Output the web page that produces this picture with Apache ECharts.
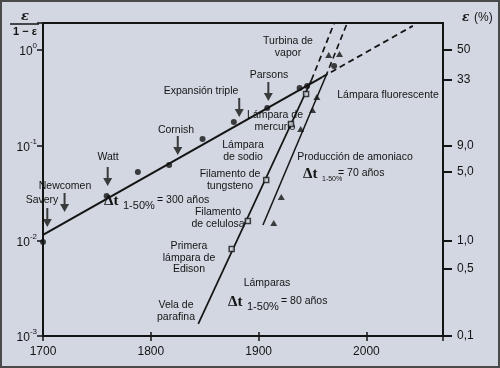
<!DOCTYPE html>
<html><head><meta charset="utf-8">
<script src="https://cdn.jsdelivr.net/npm/echarts@6/dist/echarts.min.js"></script>
<style>html,body{margin:0;padding:0;background:#d2d7e1}#c{width:500px;height:368px}</style>
</head><body><div id="c"></div>
<script>
// ---- data ----
const xTicks = [1700, 1800, 1900, 2000];
const yPowers = [0.001, 0.01, 0.1, 1];
const epsTicks = [0.1, 0.5, 1.0, 5.0, 9.0, 33, 50];
const epsLabels = ['0,1', '0,5', '1,0', '5,0', '9,0', '33', '50'];

// steam engines (dots)
const steamDotYears  = [1700, 1759, 1788, 1817, 1848, 1877, 1908, 1938, 1945, 1970];
const steamDotValues = [0.0097, 0.0294, 0.0525, 0.0622, 0.1165, 0.176, 0.246, 0.40, 0.419, 0.68];
// lamps (squares)
const lampYears  = [1875, 1890, 1907, 1930, 1944];
const lampValues = [0.0082, 0.0161, 0.0433, 0.1675, 0.345];
// ammonia production (triangles)
const ammoniaYears  = [1914, 1921, 1939, 1950, 1954, 1965, 1975];
const ammoniaValues = [0.0153, 0.0287, 0.148, 0.235, 0.321, 0.887, 0.908];
// event arrows: Savery, Newcomen, Watt, Cornish, Expansión triple, Parsons
const arrowYears  = [1704, 1720, 1760, 1825, 1882, 1909];
const arrowValues = [0.0139, 0.0200, 0.0374, 0.0792, 0.198, 0.292];

// fitted trend lines (solid part, dashed extrapolation)
const steamFitYears   = [1700, 1959];  const steamFitValues   = [0.0115, 0.52];
const steamDashYears  = [1959, 2043];  const steamDashValues  = [0.52, 1.79];
const lampFitYears    = [1844, 1949];  const lampFitValues    = [0.00134, 0.484];
const lampDashYears   = [1949, 1970];  const lampDashValues   = [0.484, 1.9];
const ammFitYears     = [1904, 1962];  const ammFitValues     = [0.0146, 0.521];
const ammDashYears    = [1962, 1982];  const ammDashValues    = [0.521, 1.9];

const X_MIN = 1700, X_MAX = 2071, Y_MIN = 0.001, Y_MAX = 1.92;

const zip = (a, b) => a.map((v, i) => [v, b[i]]);
const FONT = "'Liberation Sans', Arial, sans-serif";
const INK = '#141414';

function lineSeries(xs, ys, dashed, w) {
  return { type: 'line', data: zip(xs, ys), symbol: 'none', silent: true,
    lineStyle: { color: INK, width: w, type: dashed ? [6, 4] : 'solid' }, z: 3 };
}
function txt(x, y, text, extra) {
  return Object.assign({ type: 'text', x: x, y: y, silent: true,
    style: Object.assign({ text: text, fill: INK, font: '10.5px ' + FONT,
      align: 'center', verticalAlign: 'middle', textAlign: 'center', textVerticalAlign: 'middle',
      lineHeight: 11.5 }, extra || {}) });
}
function delta(x, y, sub, rest, subSize) {
  return [
    txt(x, y, 'Δt', { font: 'bold 15px "Liberation Serif", serif', align: 'left', textAlign: 'left' }),
    txt(x + 19, y + 5, sub, { font: (subSize || 11) + 'px ' + FONT, align: 'left', textAlign: 'left' }),
    txt(x + (subSize ? 35 : 53), y - 1, rest, { font: '10.5px ' + FONT, align: 'left', textAlign: 'left' })
  ];
}

const arrowPath = 'path://M3,0 L5,0 L5,11 L8.5,11 L4,19 L-0.5,11 L3,11 Z';

const chart = echarts.init(document.getElementById('c'), null, { renderer: 'canvas' });
chart.setOption({
  backgroundColor: '#d2d7e1',
  animation: false,
  grid: { left: 43, right: 57, top: 23, bottom: 32, show: true, borderColor: INK, borderWidth: 2 },
  xAxis: [{
    type: 'value', min: X_MIN, max: X_MAX, interval: 100,
    axisLine: { show: true, onZero: false, lineStyle: { color: INK, width: 2 } },
    axisTick: { show: true, length: 5, lineStyle: { color: INK, width: 1.5 } },
    axisLabel: { color: INK, fontSize: 12, fontFamily: FONT, margin: 10,
      formatter: v => (xTicks.indexOf(v) >= 0 ? String(v) : '') },
    splitLine: { show: false }
  }, {
    type: 'value', min: X_MIN, max: X_MAX, interval: 100, position: 'bottom',
    axisLine: { show: false, onZero: false },
    axisTick: { show: true, inside: true, length: 4, lineStyle: { color: INK, width: 1.5 } },
    axisLabel: { show: false }, splitLine: { show: false }
  }],
  yAxis: [{
    type: 'log', min: Y_MIN, max: Y_MAX, logBase: 10,
    axisLine: { show: true, onZero: false, lineStyle: { color: INK, width: 2 } },
    axisTick: { show: true, length: 6, lineStyle: { color: INK, width: 1.5 } },
    axisLabel: { color: INK, fontFamily: FONT, margin: 6,
      formatter: v => {
        const e = Math.round(Math.log10(v));
        if (Math.abs(Math.log10(v) - e) > 1e-6) return '';
        return '{b|10}{s|' + e + '}';
      },
      rich: { b: { fontSize: 12, fontFamily: FONT, color: INK, lineHeight: 16, verticalAlign: 'bottom' },
              s: { fontSize: 8, fontFamily: FONT, color: INK, lineHeight: 16, verticalAlign: 'top' } } },
    splitLine: { show: false }
  }, {
    type: 'value', position: 'right', min: Math.log10(Y_MIN), max: Math.log10(Y_MAX),
    axisLine: { show: true, onZero: false, lineStyle: { color: INK, width: 2 } },
    axisTick: { show: true, length: 9, lineStyle: { color: INK, width: 2 },
      customValues: epsTicks.map(e => Math.log10(e / (100 - e))) },
    axisLabel: { color: INK, fontSize: 12, fontFamily: FONT, margin: 14,
      customValues: epsTicks.map(e => Math.log10(e / (100 - e))),
      formatter: v => {
        let best = 0, d = 1e9;
        epsTicks.forEach((e, i) => { const dd = Math.abs(Math.log10(e / (100 - e)) - v); if (dd < d) { d = dd; best = i; } });
        return epsLabels[best];
      } },
    splitLine: { show: false }
  }],
  series: [
    lineSeries(steamFitYears, steamFitValues, false, 2),
    lineSeries(steamDashYears, steamDashValues, true, 1.8),
    lineSeries(lampFitYears, lampFitValues, false, 1.7),
    lineSeries(lampDashYears, lampDashValues, true, 1.7),
    lineSeries(ammFitYears, ammFitValues, false, 1.5),
    lineSeries(ammDashYears, ammDashValues, true, 1.6),
    { type: 'scatter', data: zip(steamDotYears, steamDotValues), symbol: 'circle', symbolSize: 6,
      itemStyle: { color: INK }, z: 4, clip: false },
    { type: 'scatter', data: zip(lampYears, lampValues), symbol: 'rect', symbolSize: 5,
      itemStyle: { color: '#d2d7e1', borderColor: INK, borderWidth: 1.5 }, z: 4 },
    { type: 'scatter', data: zip(ammoniaYears, ammoniaValues), symbol: 'triangle', symbolSize: [7, 6],
      itemStyle: { color: INK }, z: 4 },
    { type: 'scatter', data: zip(arrowYears, arrowValues), symbol: arrowPath, symbolSize: [9, 19],
      symbolOffset: [0, '-50%'], itemStyle: { color: INK }, z: 5, clip: false }
  ],
  graphic: [
    { type: 'rect', shape: { x: 1, y: 1, width: 498, height: 366 }, silent: true,
      style: { fill: 'none', stroke: '#4a4a4a', lineWidth: 2 } },
    txt(25, 17, 'ε', { font: 'italic bold 13px "DejaVu Serif", serif' }),
    { type: 'line', shape: { x1: 10, y1: 24, x2: 39, y2: 24 }, silent: true, style: { stroke: INK, lineWidth: 1.5 } },
    txt(25, 32, '1 − ε', { font: 'bold 11px ' + FONT }),
    txt(462, 18, 'ε', { font: 'italic bold 12px "DejaVu Serif", serif', align: 'left', textAlign: 'left' }),
    txt(474, 18, '(%)', { font: '12px ' + FONT, align: 'left', textAlign: 'left' }),
    txt(288, 47, 'Turbina de\nvapor'),
    txt(269, 75, 'Parsons'),
    txt(201, 91, 'Expansión triple'),
    txt(388, 95, 'Lámpara fluorescente'),
    txt(275, 121, 'Lámpara de\nmercurio'),
    txt(243, 151, 'Lámpara\nde sodio'),
    txt(176, 130, 'Cornish'),
    txt(108, 157, 'Watt'),
    txt(65, 186, 'Newcomen'),
    txt(42, 200, 'Savery'),
    txt(230, 180, 'Filamento de\ntungsteno'),
    txt(218, 218, 'Filamento\nde celulosa'),
    txt(189, 258, 'Primera\nlámpara de\nEdison'),
    txt(176, 311, 'Vela de\nparafina'),
    txt(355, 157, 'Producción de amoniaco'),
    txt(267, 283, 'Lámparas')
  ].concat(delta(104, 201, '1-50%', '= 300 años'))
   .concat(delta(303, 174, '1-50%', '= 70 años', 7))
   .concat(delta(228, 302, '1-50%', '= 80 años'))
});
</script></body></html>
